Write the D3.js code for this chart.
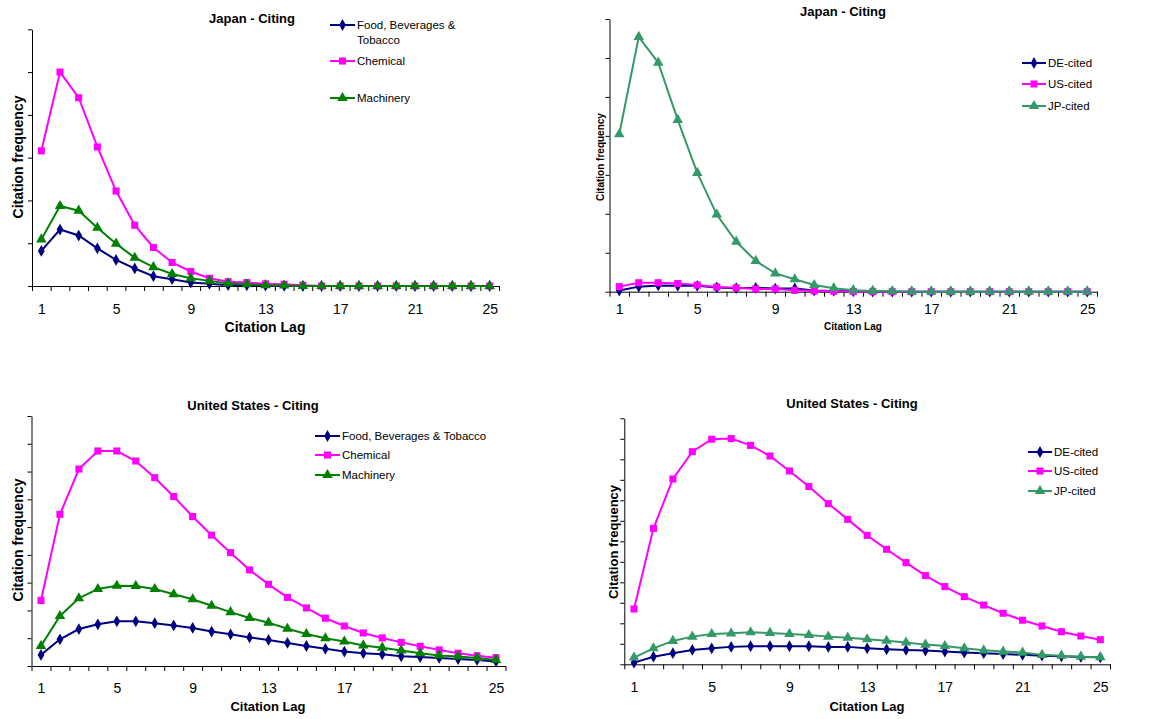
<!DOCTYPE html>
<html>
<head>
<meta charset="utf-8">
<script src="https://cdn.jsdelivr.net/npm/d3@7"></script>
<style>
  body { margin: 0; background: #fff; }
  svg { display: block; font-family: "Liberation Sans", Arial, sans-serif; }
</style>
</head>
<body>
<script>
// citation lags 1..25, values in units of the (unlabelled) y gridline step
const lags = d3.range(1, 26);
const xTickLabels = [1, 5, 9, 13, 17, 21, 25];

// Japan citing, by industry
const jpFood = [0.82, 1.32, 1.18, 0.88, 0.61, 0.41, 0.23, 0.16, 0.08, 0.05, 0.02, 0.015, 0.01, 0.005, 0, 0, 0, 0, 0, 0, 0, 0, 0, 0, 0];
const jpChemical = [3.16, 5.0, 4.40, 3.25, 2.22, 1.42, 0.90, 0.55, 0.34, 0.18, 0.10, 0.08, 0.05, 0.04, 0.02, 0, 0, 0, 0, 0, 0, 0, 0, 0, 0];
const jpMachinery = [1.09, 1.87, 1.76, 1.36, 0.99, 0.66, 0.44, 0.28, 0.18, 0.12, 0.06, 0.04, 0.02, 0.01, 0, 0, 0, 0, 0, 0, 0, 0, 0, 0, 0];

// Japan citing, by cited country
const jpDE = [0.03, 0.13, 0.16, 0.15, 0.15, 0.11, 0.09, 0.10, 0.08, 0.085, 0.03, 0.02, 0.01, 0.005, 0, 0, 0, 0, 0, 0, 0, 0, 0, 0, 0];
const jpUS = [0.13, 0.23, 0.23, 0.21, 0.17, 0.12, 0.10, 0.07, 0.07, 0.035, 0.02, 0.01, 0.005, 0, 0, 0, 0, 0, 0, 0, 0, 0, 0, 0, 0];
const jpJP = [4.04, 6.54, 5.88, 4.41, 3.05, 1.98, 1.28, 0.79, 0.47, 0.32, 0.17, 0.09, 0.04, 0.02, 0.01, 0, 0, 0, 0, 0, 0, 0, 0, 0, 0];

// United States citing, by industry
const usFood = [0.40, 0.96, 1.33, 1.50, 1.61, 1.61, 1.54, 1.46, 1.37, 1.24, 1.14, 1.03, 0.94, 0.83, 0.72, 0.62, 0.52, 0.46, 0.42, 0.35, 0.32, 0.29, 0.25, 0.22, 0.16];
const usChemical = [2.36, 5.46, 7.09, 7.74, 7.74, 7.38, 6.78, 6.10, 5.38, 4.71, 4.08, 3.46, 2.94, 2.47, 2.09, 1.72, 1.44, 1.19, 1.01, 0.85, 0.71, 0.58, 0.46, 0.37, 0.30];
const usMachinery = [0.72, 1.80, 2.44, 2.77, 2.89, 2.88, 2.77, 2.58, 2.40, 2.17, 1.94, 1.73, 1.56, 1.34, 1.15, 1.00, 0.88, 0.74, 0.66, 0.56, 0.46, 0.38, 0.34, 0.29, 0.22];

// United States citing, by cited country
const usDE = [0.08, 0.37, 0.54, 0.70, 0.78, 0.85, 0.88, 0.88, 0.88, 0.88, 0.85, 0.85, 0.78, 0.73, 0.70, 0.67, 0.62, 0.57, 0.54, 0.50, 0.46, 0.42, 0.39, 0.36, 0.34];
const usUS = [2.70, 6.63, 9.04, 10.37, 10.98, 11.01, 10.68, 10.16, 9.43, 8.67, 7.84, 7.07, 6.29, 5.61, 4.96, 4.33, 3.79, 3.30, 2.89, 2.49, 2.15, 1.87, 1.59, 1.38, 1.20];
const usJP = [0.33, 0.78, 1.14, 1.35, 1.48, 1.51, 1.56, 1.53, 1.48, 1.43, 1.35, 1.30, 1.22, 1.15, 1.06, 0.96, 0.89, 0.78, 0.68, 0.62, 0.57, 0.46, 0.42, 0.37, 0.34];

const industryNames = ['Food, Beverages & Tobacco', 'Chemical', 'Machinery'];
const countryNames = ['DE-cited', 'US-cited', 'JP-cited'];

const NAVY = '#000080', MAGENTA = '#ff00ff', GREEN = '#008000', SEA = '#339966';

const svg = d3.select('body').append('svg')
  .attr('width', 1167)
  .attr('height', 719);

const panels = [
  {
    title: 'Japan - Citing', yMax: 6,
    series: [
      { name: industryNames[0], values: jpFood, color: NAVY, marker: 'diamond' },
      { name: industryNames[1], values: jpChemical, color: MAGENTA, marker: 'square' },
      { name: industryNames[2], values: jpMachinery, color: GREEN, marker: 'triangle' }
    ],
    x0: 32, x1: 499, yBase: 286, yTop: 29.3,
    titlePos: [252, 18], tickY: 309, xTitle: [265, 327, 14], yTitle: [18, 157, 14],
    legend: { lx: 330, tx: 357, rows: [25, 61, 98], wrap: ['Food, Beverages &', 'Tobacco'] }
  },
  {
    title: 'Japan - Citing', yMax: 7,
    series: [
      { name: countryNames[0], values: jpDE, color: NAVY, marker: 'diamond' },
      { name: countryNames[1], values: jpUS, color: MAGENTA, marker: 'square' },
      { name: countryNames[2], values: jpJP, color: SEA, marker: 'triangle' }
    ],
    x0: 609.5, x1: 1097, yBase: 291.7, yTop: 19,
    titlePos: [843, 11], tickY: 309, xTitle: [853, 326, 10], yTitle: [600, 157, 10],
    legend: { lx: 1022, tx: 1048, rows: [63, 84, 106] }
  },
  {
    title: 'United States - Citing', yMax: 9,
    series: [
      { name: industryNames[0], values: usFood, color: NAVY, marker: 'diamond' },
      { name: industryNames[1], values: usChemical, color: MAGENTA, marker: 'square' },
      { name: industryNames[2], values: usMachinery, color: GREEN, marker: 'triangle' }
    ],
    x0: 31.5, x1: 505.5, yBase: 666, yTop: 416,
    titlePos: [253, 405], tickY: 688, xTitle: [268, 706, 13], yTitle: [18, 540, 14],
    legend: { lx: 315, tx: 342, rows: [436, 455, 475] }
  },
  {
    title: 'United States - Citing', yMax: 12,
    series: [
      { name: countryNames[0], values: usDE, color: NAVY, marker: 'diamond' },
      { name: countryNames[1], values: usUS, color: MAGENTA, marker: 'square' },
      { name: countryNames[2], values: usJP, color: SEA, marker: 'triangle' }
    ],
    x0: 624.3, x1: 1110, yBase: 664.3, yTop: 418.3,
    titlePos: [852, 403], tickY: 687, xTitle: [867, 706, 13], yTitle: [613, 542, 13],
    legend: { lx: 1028, tx: 1054, rows: [452, 471, 491] }
  }
];

const markerPath = {
  diamond: d3.symbol().type(d3.symbolDiamond).size(40)(),
  square: d3.symbol().type(d3.symbolSquare).size(50)(),
  triangle: d3.symbol().type(d3.symbolTriangle).size(48)()
};

panels.forEach((p) => {
  const g = svg.append('g');

  const x = d3.scaleLinear().domain([0.5, 25.5]).range([p.x0, p.x1]);
  const y = d3.scaleLinear().domain([0, p.yMax]).range([p.yBase, p.yTop]);

  // x axis: ticks between categories, labels every 4th lag
  g.append('g')
    .attr('transform', `translate(0, ${p.yBase})`)
    .call(d3.axisBottom(x).tickValues(d3.range(0.5, 26, 1)).tickSize(5).tickSizeOuter(0).tickFormat(''))
    .call((a) => a.select('.domain').attr('stroke', '#000'));

  g.append('g')
    .attr('transform', `translate(0, ${p.tickY})`)
    .call(d3.axisBottom(x).tickValues(xTickLabels).tickSize(0).tickFormat(d3.format('d')))
    .call((a) => {
      a.select('.domain').remove();
      a.selectAll('text')
        .attr('y', 0).attr('dy', '0.35em')
        .attr('font-size', 14).attr('fill', '#000')
        .attr('font-family', '"Liberation Sans", Arial, sans-serif');
    });

  // y axis without labels
  g.append('g')
    .attr('transform', `translate(${p.x0}, 0)`)
    .call(d3.axisLeft(y).tickValues(d3.range(0, p.yMax + 1)).tickSize(4).tickSizeOuter(0).tickFormat(''));

  g.selectAll('.tick line').attr('stroke', '#000');

  // titles
  g.append('text')
    .attr('x', p.titlePos[0]).attr('y', p.titlePos[1]).attr('dy', '0.35em')
    .attr('text-anchor', 'middle').attr('font-weight', 'bold').attr('font-size', 13)
    .text(p.title);

  g.append('text')
    .attr('x', p.xTitle[0]).attr('y', p.xTitle[1]).attr('dy', '0.35em')
    .attr('text-anchor', 'middle').attr('font-weight', 'bold').attr('font-size', p.xTitle[2])
    .text('Citation Lag');

  g.append('text')
    .attr('transform', `translate(${p.yTitle[0]}, ${p.yTitle[1]}) rotate(-90)`)
    .attr('dy', '0.35em')
    .attr('text-anchor', 'middle').attr('font-weight', 'bold').attr('font-size', p.yTitle[2])
    .text('Citation frequency');

  const line = d3.line()
    .x((d, i) => x(lags[i]))
    .y((d) => y(d));

  p.series.forEach((s) => {
    const sg = g.append('g');
    sg.append('path')
      .datum(s.values)
      .attr('fill', 'none')
      .attr('stroke', s.color)
      .attr('stroke-width', 2)
      .attr('d', line);
    sg.selectAll('path.mark')
      .data(s.values)
      .enter()
      .append('path')
      .attr('class', 'mark')
      .attr('d', markerPath[s.marker])
      .attr('fill', s.color)
      .attr('transform', (d, i) => `translate(${x(lags[i])}, ${y(d)})`);
  });

  // legend
  p.series.forEach((s, i) => {
    const ry = p.legend.rows[i];
    const lg = g.append('g');
    lg.append('line')
      .attr('x1', p.legend.lx).attr('x2', p.legend.tx - 2)
      .attr('y1', ry).attr('y2', ry)
      .attr('stroke', s.color).attr('stroke-width', 2);
    lg.append('path')
      .attr('d', markerPath[s.marker])
      .attr('fill', s.color)
      .attr('transform', `translate(${(p.legend.lx + p.legend.tx - 2) / 2}, ${ry})`);
    const t = lg.append('text')
      .attr('x', p.legend.tx).attr('y', ry).attr('dy', '0.35em')
      .attr('font-size', 11.5).attr('fill', '#000');
    if (i === 0 && p.legend.wrap) {
      t.text(p.legend.wrap[0]);
      lg.append('text')
        .attr('x', p.legend.tx).attr('y', ry + 15).attr('dy', '0.35em')
        .attr('font-size', 11.5).attr('fill', '#000')
        .text(p.legend.wrap[1]);
    } else {
      t.text(s.name);
    }
  });
});
</script>
</body>
</html>
